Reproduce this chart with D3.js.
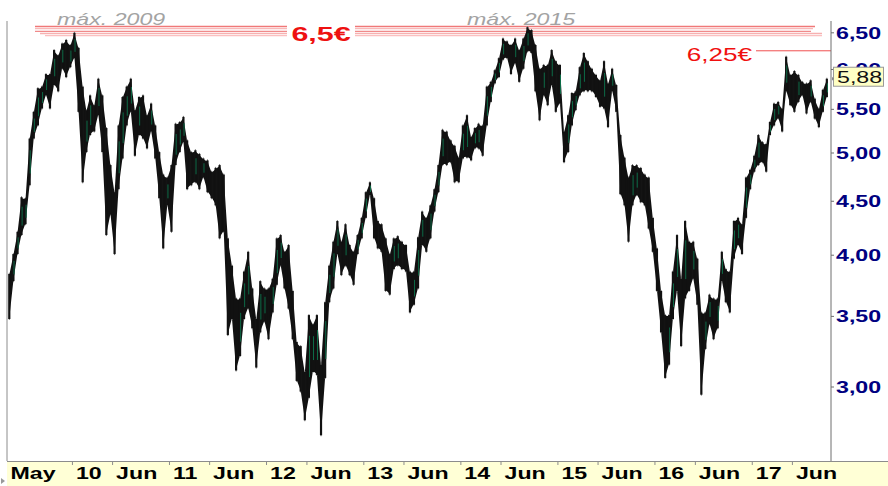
<!DOCTYPE html>
<html>
<head>
<meta charset="utf-8">
<script src="https://cdn.jsdelivr.net/npm/d3@7"></script>
<style>
  html, body { margin: 0; padding: 0; background: #fff; }
  svg { display: block; font-family: "Liberation Sans", Arial, sans-serif; }
</style>
</head>
<body>
<svg id="chart" width="888" height="486"></svg>
<script>
// half-monthly ranges, first bar = 1-15 May 2009
const highs = [
  3.84, 4.01, 4.21, 4.54, 4.53, 5.16, 5.47, 5.76, 5.78, 5.94,
  5.94, 6.26, 6.19, 6.35, 6.40, 6.33, 6.50, 6.29, 5.78, 5.49,
  5.67, 5.55, 5.88, 5.67, 5.28, 4.87, 4.59, 5.31, 5.65, 5.78,
  5.88, 5.49, 5.65, 5.67, 5.43, 5.57, 5.31, 5.01, 4.77, 4.74,
  4.87, 5.33, 5.35, 5.41, 5.14, 5.01, 5.03, 4.99, 4.94, 4.92,
  4.80, 4.84, 4.87, 4.77, 4.15, 3.91, 3.64, 3.64, 3.86, 4.03,
  3.72, 3.48, 3.78, 3.72, 3.72, 3.80, 4.15, 4.18, 4.03, 4.09,
  3.70, 3.31, 3.28, 3.10, 3.51, 3.44, 3.51, 3.15, 3.61, 3.91,
  4.12, 4.31, 4.12, 4.28, 4.09, 4.03, 4.18, 4.34, 4.59, 4.69,
  4.53, 4.31, 4.28, 4.15, 4.01, 4.15, 4.17, 4.12, 4.09, 3.86,
  3.86, 4.16, 4.40, 4.34, 4.46, 4.62, 4.87, 5.26, 5.24, 5.14,
  5.08, 4.95, 5.31, 5.43, 5.18, 5.28, 5.33, 5.31, 5.78, 5.84,
  5.99, 6.15, 6.42, 6.38, 6.33, 6.42, 6.26, 6.42, 6.58, 6.54,
  6.33, 6.01, 6.06, 6.06, 6.26, 6.11, 6.06, 5.24, 5.43, 5.70,
  5.72, 6.03, 6.22, 6.11, 6.01, 5.93, 5.86, 6.11, 5.82, 6.01,
  5.80, 5.20, 4.95, 4.74, 4.87, 4.87, 4.84, 4.77, 4.74, 4.34,
  4.06, 3.70, 3.51, 3.51, 3.86, 4.18, 3.80, 4.31, 4.12, 4.12,
  3.97, 3.53, 3.53, 3.67, 3.64, 3.64, 4.03, 3.88, 3.86, 4.31,
  4.34, 4.28, 4.74, 4.82, 4.97, 5.20, 5.12, 5.10, 5.35, 5.57,
  5.59, 5.51, 6.17, 5.93, 5.98, 5.93, 5.84, 5.82, 5.86, 5.63,
  5.51, 5.74, 5.88
];
const lows = [
  3.48, 3.78, 4.01, 4.18, 4.28, 4.66, 5.16, 5.31, 5.51, 5.67,
  5.51, 5.80, 5.72, 6.01, 5.90, 6.03, 6.15, 5.47, 4.69, 5.01,
  5.20, 5.24, 5.43, 5.01, 4.18, 4.37, 4.01, 4.62, 4.94, 5.31,
  5.47, 4.97, 5.20, 5.16, 5.05, 5.24, 4.94, 4.53, 4.06, 4.46,
  4.21, 4.87, 5.01, 5.12, 4.62, 4.66, 4.69, 4.62, 4.74, 4.59,
  4.53, 4.46, 4.15, 4.21, 3.36, 3.48, 3.11, 3.21, 3.48, 3.56,
  3.41, 3.13, 3.38, 3.46, 3.33, 3.53, 3.75, 3.91, 3.72, 3.56,
  3.33, 3.04, 2.97, 2.79, 2.93, 3.10, 3.08, 2.70, 3.06, 3.61,
  3.72, 4.01, 3.83, 3.91, 3.83, 3.75, 4.01, 4.15, 4.34, 4.56,
  4.15, 4.06, 4.03, 3.70, 3.67, 3.88, 3.91, 3.88, 3.86, 3.53,
  3.59, 3.72, 4.09, 4.03, 4.15, 4.40, 4.59, 4.87, 4.87, 4.90,
  4.69, 4.69, 4.94, 4.95, 4.92, 5.05, 5.05, 4.97, 5.31, 5.59,
  5.82, 5.90, 6.13, 6.15, 5.94, 6.08, 5.84, 6.01, 6.24, 6.22,
  5.72, 5.37, 5.67, 5.55, 5.80, 5.47, 5.57, 4.90, 5.01, 5.31,
  5.49, 5.67, 5.72, 5.72, 5.72, 5.65, 5.53, 5.51, 5.29, 5.72,
  5.47, 4.57, 4.46, 4.12, 4.46, 4.56, 4.49, 4.46, 4.24, 4.03,
  3.70, 3.38, 3.06, 3.15, 3.48, 3.70, 3.28, 3.64, 3.70, 3.80,
  3.59, 2.95, 3.26, 3.44, 3.33, 3.41, 3.78, 3.61, 3.53, 3.97,
  4.09, 4.01, 4.34, 4.62, 4.80, 4.87, 4.90, 4.80, 5.20, 5.31,
  5.39, 5.24, 5.72, 5.55, 5.47, 5.59, 5.67, 5.45, 5.59, 5.39,
  5.29, 5.47, 5.65
];
const lastClose = 5.88;

const yTicks = [3.0, 3.5, 4.0, 4.5, 5.0, 5.5, 6.0, 6.5];
const yearTicks = [2010, 2011, 2012, 2013, 2014, 2015, 2016, 2017];
const yearLabels = ["10", "11", "12", "13", "14", "15", "16", "17"];
const midLabel = "Jun";
const firstLabel = "May";

// the "máx." band drawn as several thin lines around 6,5
const maxLevels = [6.59, 6.56, 6.52, 6.49, 6.46];
const maxColors = ["#f07878", "#f9b8b8", "#f08a8a", "#f7b0b0", "#fbc0c0"];
const maxLabel = "6,5€";
const maxNotes = [{ text: "máx. 2009", x: 57 }, { text: "máx. 2015", x: 467 }];
const resistance = 6.25;
const resistanceLabel = "6,25€";

const W = 888, H = 486;
const L = 7, R = 831, T = 21, B = 461;
const SX = 1.45; // text in the original is horizontally stretched

const svg = d3.select("#chart");
const fmt = (v) => v.toFixed(2).replace(".", ",");

const x = d3.scaleTime().domain([new Date(2009, 4, 1), new Date(2018, 0, 1)]).range([7.3, 849.3]);
const y = d3.scaleLog().domain([3, 5]).range([387, 153]);

const periodStart = (k) => new Date(2009, 4 + Math.floor(k / 2), k % 2 ? 16 : 1);
const bars = highs.map((h, k) => ({ start: periodStart(k), end: periodStart(k + 1), high: h, low: lows[k] }));
const cx = (d) => (x(d.start) + x(d.end)) / 2;

function stretched(parent, str, px, py, opts) {
  return parent.append("text")
    .attr("transform", `translate(${px},${py}) scale(${SX},1)`)
    .attr("text-anchor", opts.anchor || "start")
    .attr("font-size", opts.size)
    .attr("font-weight", opts.weight || "normal")
    .attr("font-style", opts.style || "normal")
    .attr("fill", opts.fill)
    .text(str);
}

// ---------- frame ----------
svg.append("rect").attr("width", W).attr("height", H).attr("fill", "#fff");
svg.append("line").attr("x1", L).attr("x2", L).attr("y1", T).attr("y2", B).attr("stroke", "#8c8c8c");

// ---------- max band ----------
maxLevels.forEach((v, i) => {
  svg.append("line")
    .attr("x1", i < 3 ? 35 : 35 + (i - 2) * 5).attr("x2", i < 3 ? 815 - i * 2 : 822)
    .attr("y1", y(v)).attr("y2", y(v))
    .attr("stroke", maxColors[i]).attr("stroke-width", 1.3);
});
svg.append("rect").attr("x", 287).attr("y", 24).attr("width", 68).attr("height", 18).attr("fill", "#fff");
stretched(svg, maxLabel, 321, 41, { anchor: "middle", size: 21, weight: "bold", fill: "#ee1111" });
maxNotes.forEach((n) => stretched(svg, n.text, n.x, 25, { size: 16, style: "italic", fill: "#a3a3a3" }));

// resistance line
svg.append("line").attr("x1", 756).attr("x2", R).attr("y1", y(resistance)).attr("y2", y(resistance))
  .attr("stroke", "#f05050").attr("stroke-width", 1);
stretched(svg, resistanceLabel, 752, 61, { anchor: "end", size: 18, fill: "#f01010" });

// ---------- price bars ----------
const g = svg.append("g");

// continuous band joining the ranges of consecutive periods
g.append("path")
  .datum(bars)
  .attr("d", d3.area().x(cx).y0((d) => y(d.low) - 1).y1((d) => y(d.high) + 1))
  .attr("fill", "#111");

// range of each period, with a grey wick like the original
g.selectAll("line.wick")
  .data(bars)
  .join("line")
  .attr("class", "wick")
  .attr("x1", cx).attr("x2", cx)
  .attr("y1", (d) => y(d.high) - 1)
  .attr("y2", (d) => y(d.low) + 1)
  .attr("stroke", "#777").attr("stroke-width", 1);
g.selectAll("line.bar")
  .data(bars)
  .join("line")
  .attr("class", "bar")
  .attr("x1", cx).attr("x2", cx)
  .attr("y1", (d) => y(d.high))
  .attr("y2", (d) => y(d.low))
  .attr("stroke", "#111").attr("stroke-width", 2.2);

// green bodies on rising stretches
g.selectAll("line.body")
  .data(bars.filter((d, k) => k > 0 && d.high + d.low > bars[k - 1].high + bars[k - 1].low))
  .join("line")
  .attr("class", "body")
  .attr("x1", (d) => cx(d) + 0.6)
  .attr("x2", (d) => cx(d) + 0.6)
  .attr("y1", (d) => y(d.high) + (y(d.low) - y(d.high)) * 0.25)
  .attr("y2", (d) => y(d.low) - (y(d.low) - y(d.high)) * 0.25)
  .attr("stroke", "#0d6b47").attr("stroke-width", 1);

// ---------- right axis ----------
svg.append("line").attr("x1", R).attr("x2", R).attr("y1", T).attr("y2", B).attr("stroke", "#6e6e6e");
const ya = svg.append("g");
yTicks.forEach((v) => {
  ya.append("line").attr("x1", R).attr("x2", R + 3).attr("y1", y(v)).attr("y2", y(v)).attr("stroke", "#6e6e6e");
  stretched(ya, fmt(v), 836, y(v) + 6, { size: 16, weight: "bold", fill: "#000080" });
});

// last value tag (sits over the 6,00 label as in the original)
const yc = y(lastClose);
svg.append("rect").attr("x", 833.5).attr("y", yc - 11.5).attr("width", 50).attr("height", 19)
  .attr("fill", "#ffffc4").attr("stroke", "#9a9a9a");
stretched(svg, fmt(lastClose), 837, yc + 4.7, { size: 16, fill: "#111" });
svg.append("path").attr("d", `M${R + 1},${yc - 2}l2,2l-2,2z`).attr("fill", "#888");

// ---------- time axis strip ----------
svg.append("rect").attr("x", L).attr("y", B).attr("width", W - L).attr("height", H - B).attr("fill", "#ffffd6");
svg.append("line").attr("x1", L).attr("x2", W).attr("y1", B + 0.5).attr("y2", B + 0.5).attr("stroke", "#8c8c8c");
svg.append("path").attr("d", "M1,478l4,3l-4,3z").attr("fill", "#999");

const xa = svg.append("g");
stretched(xa, firstLabel, 10.5, 479, { size: 16, weight: "bold", fill: "#000" });
yearTicks.forEach((yr, i) => {
  [new Date(yr, 0, 1), new Date(yr, 5, 1)].forEach((d, j) => {
    const px = x(d);
    xa.append("line").attr("x1", px).attr("x2", px).attr("y1", B).attr("y2", B + 4).attr("stroke", "#8c8c8c");
    stretched(xa, j === 0 ? yearLabels[i] : midLabel, px + 3.5, 479, { size: 16, weight: "bold", fill: "#000" });
  });
});
</script>
</body>
</html>
